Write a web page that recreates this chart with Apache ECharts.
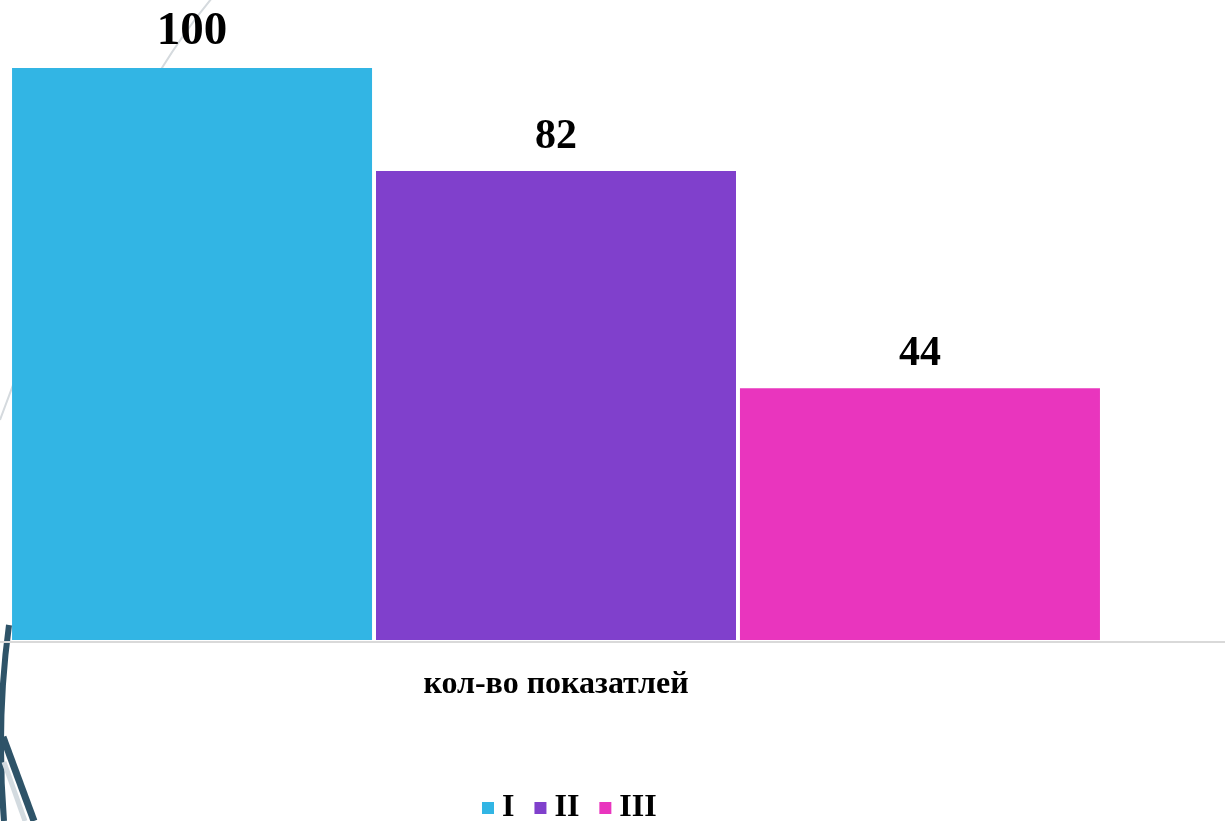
<!DOCTYPE html>
<html>
<head>
<meta charset="utf-8">
<script src="https://cdn.jsdelivr.net/npm/echarts@6/dist/echarts.min.js"></script>
<style>
  html, body { margin: 0; padding: 0; background: #fff; }
  #chart { width: 1225px; height: 821px; }
</style>
</head>
<body>
<div id="chart"></div>
<script>
// данные диаграммы
const categories = ['кол-во показатлей'];
const seriesNames = ['I', 'II', 'III'];
const seriesValues = [[100], [82], [44]];
const colors = ['#32B5E4', '#8040CC', '#E935BE'];
const labelSizes = [47, 42, 42];

const serif = "'Liberation Serif', 'Times New Roman', serif";
const chart = echarts.init(document.getElementById('chart'));

let series = seriesNames.map(function (name, i) {
    return {
        name: name,
        type: 'bar',
        barWidth: 360,
        barGap: '1.1%',
        data: seriesValues[i],
        itemStyle: { color: colors[i] },
        label: {
            show: true,
            position: 'top',
            distance: 13,
            color: '#000',
            fontFamily: serif,
            fontWeight: 'bold',
            fontSize: labelSizes[i]
        },
        z: 3
    };
});

let option = {
    backgroundColor: '#fff',
    animation: false,
    grid: {
        left: 0,
        right: 113,
        top: 68,
        bottom: 181,
        containLabel: false
    },
    legend: {
        data: seriesNames,
        bottom: -8,
        left: 477,
        itemWidth: 12,
        itemHeight: 12,
        itemGap: 20,
        icon: 'rect',
        textStyle: {
            color: '#000',
            fontFamily: serif,
            fontWeight: 'bold',
            fontSize: 32,
            padding: [0, 0, 0, 3]
        }
    },
    xAxis: {
        type: 'category',
        data: categories,
        axisLine: { show: false },
        axisTick: { show: false },
        axisLabel: {
            margin: 29,
            color: '#000',
            fontFamily: serif,
            fontWeight: 'bold',
            fontSize: 32
        }
    },
    yAxis: {
        type: 'value',
        min: 0,
        max: 100,
        show: false,
        splitLine: { show: false }
    },
    graphic: [
        // линия оси на всю ширину
        { type: 'line', shape: { x1: 0, y1: 642, x2: 1225, y2: 642 }, style: { stroke: '#d9d9d9', lineWidth: 2 }, z: 1 },
        // декоративные линии слайда
        { type: 'bezierCurve', shape: { x1: 212, y1: -2, x2: 0, y2: 420, cpx1: 110, cpy1: 120 }, style: { stroke: '#d5dade', lineWidth: 2, fill: null }, z: 0 },
        { type: 'bezierCurve', shape: { x1: 9, y1: 625, x2: 4, y2: 821, cpx1: -4, cpy1: 720 }, style: { stroke: '#2e5368', lineWidth: 6, fill: null }, z: 0 },
        { type: 'line', shape: { x1: 4, y1: 762, x2: 25, y2: 821 }, style: { stroke: '#d3dbe0', lineWidth: 5 }, z: 0 },
        { type: 'line', shape: { x1: 3, y1: 737, x2: 34, y2: 821 }, style: { stroke: '#2e5368', lineWidth: 7 }, z: 0 }
    ],
    series: series
};

chart.setOption(option);
</script>
</body>
</html>
